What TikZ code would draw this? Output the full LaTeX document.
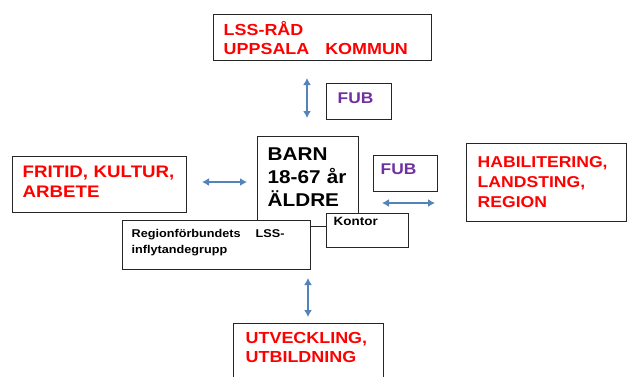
\documentclass[tikz,border=0pt]{standalone}
\usepackage{fontspec}
\setmainfont{Liberation Sans}[FakeStretch=1.12]
\usetikzlibrary{arrows.meta}
\definecolor{fublila}{RGB}{112,48,160}
\definecolor{pilbla}{RGB}{84,130,187}

\begin{document}
\begin{tikzpicture}[x=1pt, y=-1pt, ruta/.style={draw=black!85, line width=1.4pt, fill=white, anchor=north west, inner ysep=0pt, align=left}, pil/.style={draw=pilbla, line width=1.8pt, {Latex[length=7pt,width=8pt]}-{Latex[length=7pt,width=8pt]}}]
		\useasboundingbox (0,0) rectangle (628,376);
		\clip (0,0) rectangle (628,376);

		\node[ruta, inner xsep=10pt, text width=198pt, text height=20.5pt, text depth=25.5pt, text=red, font=\bfseries\fontsize{16}{19}\selectfont] (lss) at (213,14) {LSS-RÅD\\UPPSALA\ \ \ KOMMUN};
		\node[ruta, inner xsep=11pt, text width=43pt, text height=20pt, text depth=16pt, text=fublila, font=\bfseries\fontsize{15.5}{18}\selectfont] (fubA) at (326,83) {FUB};
		\node[ruta, inner xsep=10pt, text width=154pt, text height=21pt, text depth=35pt, text=red, font=\bfseries\fontsize{16.7}{20}\selectfont] (fritid) at (12,156) {FRITID, KULTUR,\\ARBETE};

		\node[ruta, inner xsep=10pt, text width=81pt, text height=24.2pt, text depth=65.8pt, font=\bfseries\fontsize{18.5}{23}\selectfont] (barn) at (257,136) {BARN\\18-67 år\\ÄLDRE};
		\node[ruta, inner xsep=7pt, text width=50pt, text height=19pt, text depth=17pt, text=fublila, font=\bfseries\fontsize{15.5}{18}\selectfont] (fubB) at (373,155) {FUB};
		\node[ruta, inner xsep=11pt, text width=138pt, text height=23.3pt, text depth=54.7pt, text=red, font=\bfseries\fontsize{15.7}{20}\selectfont] (habil) at (466,143) {HABILITERING,\\LANDSTING,\\REGION};

		\node[ruta, inner xsep=9pt, text width=170pt, text height=17pt, text depth=32pt, font=\bfseries\fontsize{11.3}{16}\selectfont] (region) at (122,220) {Regionförbundets\hspace{15pt}LSS-\\inflytandegrupp};
		\node[ruta, inner xsep=7pt, text width=68pt, text height=12.2pt, text depth=21.8pt, font=\bfseries\fontsize{12}{14}\selectfont] (kontor) at (326,213) {Kontor};
		\node[ruta, inner xsep=12pt, text width=126pt, text height=19.5pt, text depth=50.5pt, text=red, font=\bfseries\fontsize{16}{19}\selectfont] (utv) at (233,323) {UTVECKLING,\\UTBILDNING};

		\coordinate (pA1) at (307,78);
		\coordinate (pA2) at (307,118);
		\coordinate (pB1) at (202,182);
		\coordinate (pB2) at (247,182);
		\coordinate (pC1) at (382,203);
		\coordinate (pC2) at (435,203);
		\coordinate (pD1) at (308,278);
		\coordinate (pD2) at (308,317);
		\draw[pil] (pA1) -- (pA2);
		\draw[pil] (pB1) -- (pB2);
		\draw[pil] (pC1) -- (pC2);
		\draw[pil] (pD1) -- (pD2);
	\end{tikzpicture}
\end{document}
